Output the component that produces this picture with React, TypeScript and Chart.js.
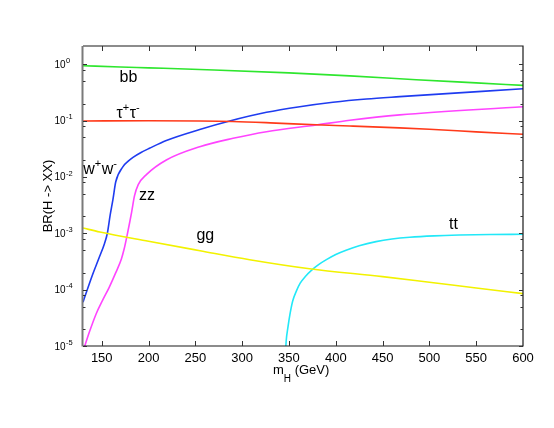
import React, { useEffect, useRef } from "react";
import { Chart, registerables } from "chart.js";

Chart.register(...registerables);

// ---- axis ranges / ticks ----
const X_MIN = 130;
const X_MAX = 600;
const Y_MIN = 1e-5;
const Y_MAX = 2.1;
const xTickValues = [150, 200, 250, 300, 350, 400, 450, 500, 550, 600];
const yDecades = [-5, -4, -3, -2, -1, 0];
const yMinorMultipliers = [2, 5, 8];

// ---- series (m_H in GeV, branching ratio) ----
const bbMass = [130, 170, 200, 270, 350, 415, 486, 550, 600];
const bbBR = [0.94, 0.89, 0.86, 0.79, 0.7, 0.62, 0.53, 0.465, 0.42];

const tauMass = [130, 200, 255, 290, 330, 379, 415, 468, 500, 550, 600];
const tauBR = [0.098, 0.099, 0.098, 0.096, 0.091, 0.084, 0.08, 0.074, 0.07, 0.063, 0.057];

const wwMass = [130, 140, 147, 153, 156, 159, 162, 165, 172.7, 178, 183.4, 192, 201, 219, 254.7, 286.7, 326, 361.5, 397, 432.8, 468.4, 600];
const wwBR = [6.0e-5, 1.8e-4, 3.6e-4, 6.6e-4, 1.0e-3, 2.1e-3, 4.0e-3, 8.2e-3, 0.0152, 0.0188, 0.0222, 0.0271, 0.0322, 0.0443, 0.0694, 0.0982, 0.14, 0.176, 0.211, 0.241, 0.265, 0.367];

const zzMass = [130, 137, 144, 151, 158, 165, 171, 174, 177, 180, 182, 185, 189, 197.7, 219, 254.7, 290.3, 326, 379.4, 415, 468.4, 600];
const zzBR = [8e-6, 1.8e-5, 3.7e-5, 6.5e-5, 1.1e-4, 2.0e-4, 3.5e-4, 5.3e-4, 9e-4, 1.6e-3, 2.4e-3, 4.6e-3, 7.3e-3, 0.011, 0.02, 0.0344, 0.0484, 0.0634, 0.0834, 0.101, 0.126, 0.176];

const ggMass = [130, 148, 200, 255, 308, 372, 450, 500, 550, 600];
const ggBR = [1.24e-3, 1.05e-3, 7.2e-4, 4.9e-4, 3.4e-4, 2.35e-4, 1.7e-4, 1.35e-4, 1.07e-4, 8.5e-5];

const ttMass = [345.5, 347, 349, 351, 354, 358, 362, 368, 374, 382, 390, 400, 411, 425, 443, 460, 479, 505, 532, 565, 600];
const ttBR = [4e-6, 1.2e-5, 2.2e-5, 3.6e-5, 6.3e-5, 9.5e-5, 1.3e-4, 1.75e-4, 2.2e-4, 2.8e-4, 3.4e-4, 4.2e-4, 5.0e-4, 6.0e-4, 7.1e-4, 7.9e-4, 8.5e-4, 9.0e-4, 9.3e-4, 9.5e-4, 9.6e-4];

// ---- curve labels (text parts: [text, isSuperscript]) anchored in data coords ----
type Part = [string, boolean];
const curveLabels: { parts: Part[]; m: number; br: number }[] = [
  { parts: [["bb", false]], m: 169, br: 0.48 },
  { parts: [["τ", false], ["+", true], ["τ", false], ["-", true]], m: 165.7, br: 0.11 },
  { parts: [["w", false], ["+", true], ["w", false], ["-", true]], m: 130.2, br: 0.0112 },
  { parts: [["zz", false]], m: 189.8, br: 0.0039 },
  { parts: [["gg", false]], m: 251.2, br: 7.6e-4 },
  { parts: [["tt", false]], m: 521, br: 1.19e-3 },
];

const FONT = '"Liberation Sans", Arial, Helvetica, sans-serif';

const toPoints = (xs: number[], ys: number[]) => xs.map((x, i) => ({ x, y: ys[i] }));

const decorPlugin = {
  id: "decor",
  afterDraw(chart: any) {
    const ctx: CanvasRenderingContext2D = chart.ctx;
    const ca = chart.chartArea;
    const xs = chart.scales.x;
    const ys = chart.scales.y;
    ctx.save();

    // frame
    ctx.strokeStyle = "#1a1a1a";
    ctx.lineWidth = 1.2;
    ctx.beginPath();
    ctx.moveTo(ca.left, ca.top);
    ctx.lineTo(ca.right, ca.top);
    ctx.lineTo(ca.right, ca.bottom);
    ctx.lineTo(ca.left, ca.bottom);
    ctx.stroke();
    ctx.strokeStyle = "#7a7a7a";
    ctx.lineWidth = 2;
    ctx.beginPath();
    ctx.moveTo(ca.left - 0.5, ca.top);
    ctx.lineTo(ca.left - 0.5, ca.bottom + 0.6);
    ctx.stroke();

    // y ticks
    ctx.strokeStyle = "#333";
    ctx.lineWidth = 1;
    const yTick = (v: number, len: number) => {
      const y = Math.round(ys.getPixelForValue(v)) + 0.5;
      ctx.beginPath();
      ctx.moveTo(ca.left, y);
      ctx.lineTo(ca.left + len, y);
      ctx.moveTo(ca.right, y);
      ctx.lineTo(ca.right - len, y);
      ctx.stroke();
    };
    yDecades.forEach((d) => {
      yTick(Math.pow(10, d), 4);
      if (d < 0) yMinorMultipliers.forEach((mult) => yTick(mult * Math.pow(10, d), 2.5));
    });
    // x ticks
    xTickValues.forEach((v) => {
      if (v >= X_MAX) return;
      const x = Math.round(xs.getPixelForValue(v)) + 0.5;
      ctx.beginPath();
      ctx.moveTo(x, ca.bottom);
      ctx.lineTo(x, ca.bottom - 5);
      ctx.moveTo(x, ca.top);
      ctx.lineTo(x, ca.top + 5);
      ctx.stroke();
    });

    ctx.fillStyle = "#000";
    // x tick labels
    ctx.font = `13px ${FONT}`;
    ctx.textAlign = "center";
    ctx.textBaseline = "alphabetic";
    xTickValues.forEach((v) => {
      ctx.fillText(String(v), xs.getPixelForValue(v), ca.bottom + 15.5);
    });

    // y tick labels 10^n
    ctx.textAlign = "left";
    yDecades.forEach((d) => {
      const y = ys.getPixelForValue(Math.pow(10, d));
      ctx.font = `10px ${FONT}`;
      ctx.fillText("10", 54.5, y + 3.6);
      const w = ctx.measureText("10").width;
      ctx.font = `7.5px ${FONT}`;
      ctx.fillText(String(d), 54.5 + w + 0.5, y - 1.2);
    });

    // x title m_H (GeV)
    let x0 = 273;
    const base = ca.bottom + 27.5;
    ctx.font = `13px ${FONT}`;
    ctx.fillText("m", x0, base);
    x0 += ctx.measureText("m").width;
    ctx.font = `10px ${FONT}`;
    ctx.fillText("H", x0, base + 8);
    x0 += ctx.measureText("H").width;
    ctx.font = `13px ${FONT}`;
    ctx.fillText(" (GeV)", x0, base);

    // y title
    ctx.save();
    ctx.translate(48, 196);
    ctx.rotate(-Math.PI / 2);
    ctx.textAlign = "center";
    ctx.textBaseline = "middle";
    ctx.font = `13px ${FONT}`;
    ctx.fillText("BR(H -> XX)", 0, 0);
    ctx.restore();

    // curve labels
    ctx.textAlign = "left";
    curveLabels.forEach((lab) => {
      let x = xs.getPixelForValue(lab.m);
      const y = ys.getPixelForValue(lab.br);
      lab.parts.forEach(([t, sup]) => {
        ctx.font = sup ? `11px ${FONT}` : `16px ${FONT}`;
        ctx.fillText(t, x, sup ? y - 7.5 : y);
        x += ctx.measureText(t).width + (sup ? 0.5 : 0);
      });
    });

    ctx.restore();
  },
};

export default function App() {
  const canvasRef = useRef<HTMLCanvasElement | null>(null);

  useEffect(() => {
    if (!canvasRef.current) return;
    const line = (xs: number[], ys: number[], color: string) => ({
      data: toPoints(xs, ys),
      borderColor: color,
      backgroundColor: color,
      borderWidth: 1.6,
      pointRadius: 0,
      fill: false,
      cubicInterpolationMode: "monotone" as const,
    });
    const chart = new Chart(canvasRef.current, {
      type: "line",
      data: {
        datasets: [
          line(ggMass, ggBR, "#f2f200"),
          line(ttMass, ttBR, "#22e8f8"),
          line(tauMass, tauBR, "#ff3a1a"),
          line(bbMass, bbBR, "#2ee62e"),
          line(zzMass, zzBR, "#ff44ff"),
          line(wwMass, wwBR, "#1f3cf0"),
        ] as any,
      },
      options: {
        animation: false,
        responsive: false,
        devicePixelRatio: 1,
        layout: { padding: { left: 83, top: 46, right: 31, bottom: 82 } },
        plugins: { legend: { display: false }, tooltip: { enabled: false } },
        events: [],
        scales: {
          x: { type: "linear", min: X_MIN, max: X_MAX, display: false },
          y: { type: "logarithmic", min: Y_MIN, max: Y_MAX, display: false },
        },
      },
      plugins: [decorPlugin],
    });
    return () => chart.destroy();
  }, []);

  return (
    <div style={{ position: "fixed", left: 0, top: 0, width: 554, height: 428, background: "#fff" }}>
      <canvas ref={canvasRef} width={554} height={428} style={{ display: "block" }} />
    </div>
  );
}
